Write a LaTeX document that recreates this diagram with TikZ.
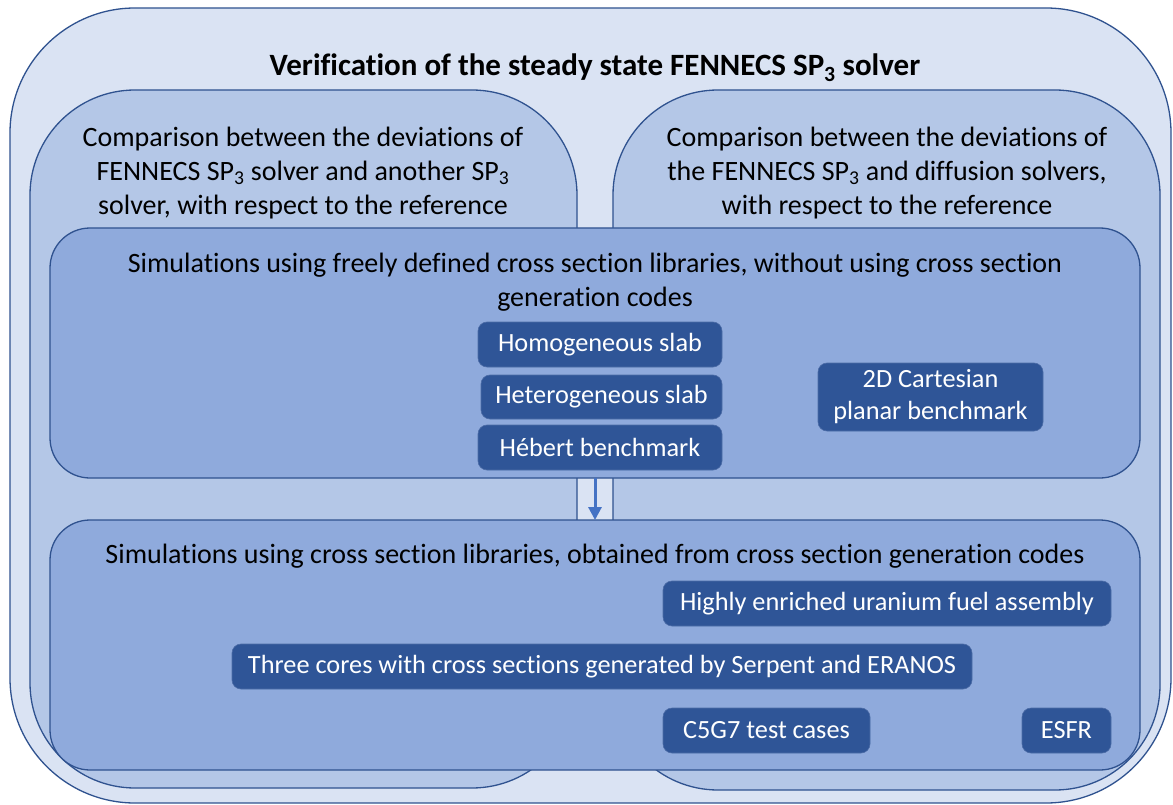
\documentclass[tikz,border=0pt]{standalone}
\usepackage{fontspec}
\setmainfont{Carlito}[Ligatures=NoCommon]
\usepackage{xcolor}
\usetikzlibrary{arrows.meta,positioning}
\definecolor{cpale}{HTML}{DAE3F3}
\definecolor{clight}{HTML}{B4C7E7}
\definecolor{cmid}{HTML}{8FAADC}
\definecolor{cdark}{HTML}{2F5597}
\definecolor{cedge}{HTML}{2F528F}
\definecolor{carrow}{HTML}{4472C4}

\begin{document}
\begin{tikzpicture}[
    x=1pt, y=-1pt,
    frame/.style={draw=cedge, line width=1.3pt, inner sep=0pt, outer sep=0pt},
    outerbox/.style={frame, fill=cpale, rounded corners=125pt},
    sidebox/.style={frame, fill=clight, rounded corners=105pt},
    simbox/.style={frame, fill=cmid, rounded corners=40pt},
    casebox/.style={draw=cedge!70!cmid, line width=0.6pt, fill=cdark, rounded corners=9pt,
        inner sep=0pt, outer sep=0pt, text=white, font=\fontsize{26.3}{32}\selectfont, align=center},
    txt/.style={font=\fontsize{28}{34}\selectfont, align=center, inner sep=0pt},
    flow/.style={draw=carrow, line width=3pt, -{Triangle[length=13pt,width=13pt]}},
]
\useasboundingbox (0,0) rectangle (1173,805);
% frames
\node[outerbox, minimum width=1161pt, minimum height=795pt] (outer) at (590.5,405.5) {};
\node[sidebox, minimum width=547pt, minimum height=698pt] (leftbox) at (303.5,439) {};
\node[sidebox, minimum width=547pt, minimum height=700pt] (rightbox) at (886.5,440) {};
\node[simbox, minimum width=1090pt, minimum height=250pt] (freesim) at (595,353) {};
\node[simbox, minimum width=1090pt, minimum height=250pt] (gensim) at (595,645) {};
\draw[flow] (freesim.south) -- (gensim.north);
% headings
\node[txt, font=\fontsize{31}{36}\selectfont\bfseries] (title) at (595,68)
    {Verification of the steady state FENNECS SP\textsubscript{3} solver};
\node[txt] (lefttext) at (303,173)
    {Comparison between the deviations of\\FENNECS SP\textsubscript{3} solver and another SP\textsubscript{3}\\solver, with respect to the reference};
\node[txt] (righttext) at (887,173)
    {Comparison between the deviations of\\the FENNECS SP\textsubscript{3} and diffusion solvers,\\with respect to the reference};
\node[txt] (freetext) at (595,282)
    {Simulations using freely defined cross section libraries, without using cross section\\generation codes};
\node[txt] (gentext) at (595,556)
    {Simulations using cross section libraries, obtained from cross section generation codes};
% test cases
\node[casebox, minimum width=244pt, minimum height=45pt] (homslab) at (600,344.5) {Homogeneous slab};
\node[casebox, minimum width=241pt, minimum height=44pt] (hetslab) at (601.5,397) {Heterogeneous slab};
\node[casebox, minimum width=244pt, minimum height=45pt] (hebert) at (600,447.5) {Hébert benchmark};
\node[casebox, minimum width=225pt, minimum height=68pt] (cartesian) at (930.5,397) {2D Cartesian\\planar benchmark};
\node[casebox, minimum width=448pt, minimum height=45pt] (heu) at (887,603.5) {Highly enriched uranium fuel assembly};
\node[casebox, minimum width=740pt, minimum height=45pt] (cores) at (602,666.5) {Three cores with cross sections generated by Serpent and ERANOS};
\node[casebox, minimum width=207pt, minimum height=45pt] (cfive) at (766.5,730.5) {C5G7 test cases};
\node[casebox, minimum width=89pt, minimum height=45pt] (esfr) at (1066.5,730.5) {ESFR};
\end{tikzpicture}
\end{document}
